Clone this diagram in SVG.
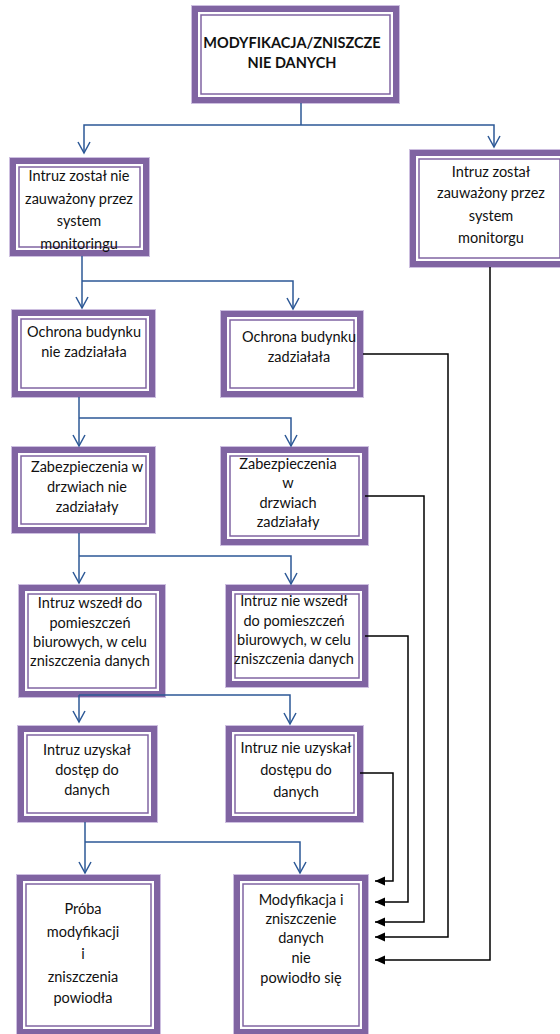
<svg xmlns="http://www.w3.org/2000/svg" width="560" height="1034" viewBox="0 0 560 1034">
<style>
.outer{fill:#fff;stroke:#8064A2;stroke-width:6}
.halo{fill:none;stroke:#CDBFE0;stroke-width:1}
.inner{fill:none;stroke:#8064A2;stroke-width:1.5}
text{font-family:Lato,"Liberation Sans",Arial,sans-serif;font-size:14.5px;fill:#111;text-anchor:middle}
.title{font-weight:bold;font-size:14.5px}
.blue{fill:none;stroke:#2C5896;stroke-width:1.5}
.black{fill:none;stroke:#000;stroke-width:1.5}
</style>
<defs>
<marker id="vb" viewBox="-13 -8 15 16" markerWidth="15" markerHeight="16" refX="0" refY="0" orient="auto" markerUnits="userSpaceOnUse">
<path d="M-11,-6 L0,0 L-11,6" fill="none" stroke="#2C5896" stroke-width="1.5"/>
</marker>
<marker id="tb" viewBox="-11 -6 12 12" markerWidth="12" markerHeight="12" refX="0" refY="0" orient="auto" markerUnits="userSpaceOnUse">
<path d="M-10,-4.5 L0,0 L-10,4.5 Z" fill="#000"/>
</marker>
</defs>
<rect width="560" height="1034" fill="#fff"/>

<g id="nodes">
<g id="nT">
<rect class="halo" x="191.5" y="5.5" width="208" height="98"/>
<rect class="outer" x="195" y="9" width="201" height="91"/>
<rect class="inner" x="201" y="15" width="189" height="79"/>
<text class="title" x="292" y="48">MODYFIKACJA/ZNISZCZE</text>
<text class="title" x="292" y="68">NIE DANYCH</text>
</g>
<g id="nA">
<rect class="halo" x="9.5" y="157.5" width="140" height="99"/>
<rect class="outer" x="13" y="161" width="133" height="92"/>
<rect class="inner" x="19" y="167" width="121" height="80"/>
<text x="79" y="181">Intruz został nie</text>
<text x="79" y="204">zauważony przez</text>
<text x="79" y="226">system</text>
<text x="79" y="249">monitoringu</text>
</g>
<g id="nB">
<rect class="halo" x="409.5" y="149.5" width="160" height="118"/>
<rect class="outer" x="413" y="153" width="153" height="111"/>
<rect class="inner" x="419" y="159" width="141" height="99"/>
<text x="491" y="177">Intruz został</text>
<text x="491" y="198">zauważony przez</text>
<text x="491" y="221">system</text>
<text x="491" y="243">monitorgu</text>
</g>
<g id="nC">
<rect class="halo" x="11.5" y="309.5" width="144" height="88"/>
<rect class="outer" x="15" y="313" width="137" height="81"/>
<rect class="inner" x="21" y="319" width="125" height="69"/>
<text x="84" y="337">Ochrona budynku</text>
<text x="84" y="357">nie zadziałała</text>
</g>
<g id="nD">
<rect class="halo" x="220.5" y="310.5" width="143" height="87"/>
<rect class="outer" x="224" y="314" width="136" height="80"/>
<rect class="inner" x="230" y="320" width="124" height="68"/>
<text x="299" y="342">Ochrona budynku</text>
<text x="299" y="362">zadziałała</text>
</g>
<g id="nE">
<rect class="halo" x="11.5" y="446.5" width="144" height="87"/>
<rect class="outer" x="15" y="450" width="137" height="80"/>
<rect class="inner" x="21" y="456" width="125" height="68"/>
<text x="87" y="472">Zabezpieczenia w</text>
<text x="87" y="492">drzwiach nie</text>
<text x="87" y="512">zadziałały</text>
</g>
<g id="nF">
<rect class="halo" x="220.5" y="446.5" width="148" height="99"/>
<rect class="outer" x="224" y="450" width="141" height="92"/>
<rect class="inner" x="230" y="456" width="129" height="80"/>
<text x="288" y="469">Zabezpieczenia</text>
<text x="288" y="488">w</text>
<text x="288" y="508">drzwiach</text>
<text x="288" y="527">zadziałały</text>
</g>
<g id="nG">
<rect class="halo" x="18.5" y="584.5" width="147" height="113"/>
<rect class="outer" x="22" y="588" width="140" height="106"/>
<rect class="inner" x="28" y="594" width="128" height="94"/>
<text x="90" y="608">Intruz wszedł do</text>
<text x="90" y="628">pomieszczeń</text>
<text x="90" y="647">biurowych, w celu</text>
<text x="90" y="666">zniszczenia danych</text>
</g>
<g id="nH">
<rect class="halo" x="225.5" y="584.5" width="143" height="103"/>
<rect class="outer" x="229" y="588" width="136" height="96"/>
<rect class="inner" x="235" y="594" width="124" height="84"/>
<text x="294" y="606">Intruz nie wszedł</text>
<text x="294" y="626">do pomieszczeń</text>
<text x="294" y="645">biurowych, w celu</text>
<text x="294" y="664">zniszczenia danych</text>
</g>
<g id="nI">
<rect class="halo" x="17.5" y="725.5" width="140" height="97"/>
<rect class="outer" x="21" y="729" width="133" height="90"/>
<rect class="inner" x="27" y="735" width="121" height="78"/>
<text x="87" y="755">Intruz uzyskał</text>
<text x="87" y="775">dostęp do</text>
<text x="87" y="795">danych</text>
</g>
<g id="nJ">
<rect class="halo" x="225.5" y="725.5" width="138" height="97"/>
<rect class="outer" x="229" y="729" width="131" height="90"/>
<rect class="inner" x="235" y="735" width="119" height="78"/>
<text x="296" y="753">Intruz nie uzyskał</text>
<text x="296" y="775">dostępu do</text>
<text x="296" y="797">danych</text>
</g>
<g id="nK">
<rect class="halo" x="16.5" y="874.5" width="144" height="164"/>
<rect class="outer" x="20" y="878" width="137" height="154"/>
<rect class="inner" x="26" y="884" width="125" height="142"/>
<text x="83" y="914">Próba</text>
<text x="83" y="937">modyfikacji</text>
<text x="83" y="959">i</text>
<text x="83" y="982">zniszczenia</text>
<text x="83" y="1003">powiodła</text>
</g>
<g id="nL">
<rect class="halo" x="233.5" y="874.5" width="135" height="164"/>
<rect class="outer" x="237" y="878" width="128" height="154"/>
<rect class="inner" x="243" y="884" width="116" height="142"/>
<text x="301" y="905">Modyfikacja i</text>
<text x="301" y="924">zniszczenie</text>
<text x="301" y="943">danych</text>
<text x="301" y="963">nie</text>
<text x="301" y="983">powiodło się</text>
</g>
</g>

<g id="connectors">
<path class="blue" d="M301,103 V125"/>
<path class="blue" d="M301,125 H84 V153" marker-end="url(#vb)"/>
<path class="blue" d="M301,125 H494 V147" marker-end="url(#vb)"/>
<path class="blue" d="M82,256 V308" marker-end="url(#vb)"/>
<path class="blue" d="M82,281 H293 V309" marker-end="url(#vb)"/>
<path class="blue" d="M79,397 V446" marker-end="url(#vb)"/>
<path class="blue" d="M79,418 H291 V446" marker-end="url(#vb)"/>
<path class="blue" d="M79,533 V583" marker-end="url(#vb)"/>
<path class="blue" d="M79,556 H291 V584" marker-end="url(#vb)"/>
<path class="blue" d="M79,695 V722" marker-end="url(#vb)"/>
<path class="blue" d="M79,695 H290 V724" marker-end="url(#vb)"/>
<path class="blue" d="M85,822 V873" marker-end="url(#vb)"/>
<path class="blue" d="M85,842 H300 V873" marker-end="url(#vb)"/>
<path class="black" d="M363,354 H448 V937 H375" marker-end="url(#tb)"/>
<path class="black" d="M365,496 H424 V922 H375" marker-end="url(#tb)"/>
<path class="black" d="M365,636 H408 V902 H375" marker-end="url(#tb)"/>
<path class="black" d="M360,773 H393 V881 H375" marker-end="url(#tb)"/>
<path class="black" d="M490,267 V960 H375" marker-end="url(#tb)"/>
</g>
</svg>
